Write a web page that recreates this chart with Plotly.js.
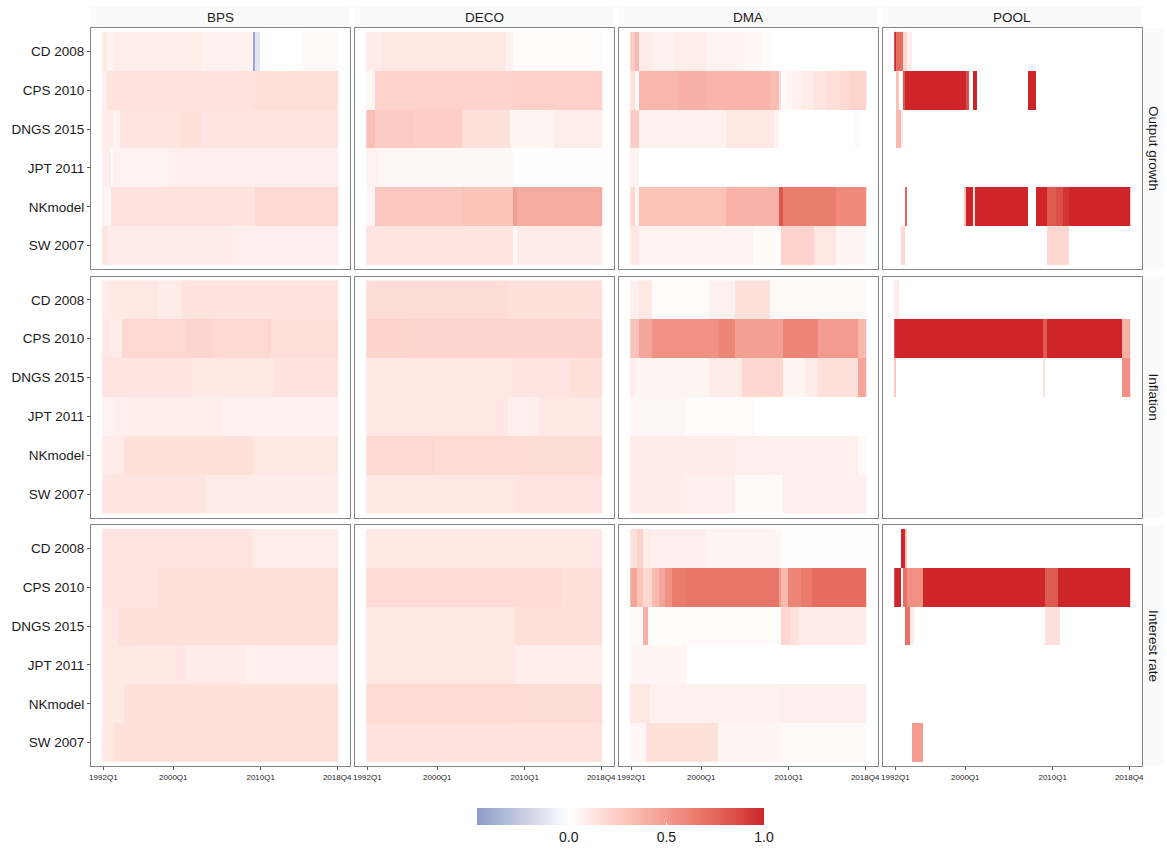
<!DOCTYPE html>
<html>
<head>
<meta charset="utf-8">
<script src="https://cdn.plot.ly/plotly-3.0.1.min.js"></script>
<style>
html, body { margin: 0; padding: 0; background: #fff; }
#chart { width: 1167px; height: 849px; }
</style>
</head>
<body>
<div id="chart"></div>
<script>
// categories
const models = ['CD 2008', 'CPS 2010', 'DNGS 2015', 'JPT 2011', 'NKmodel', 'SW 2007'];
const methods = ['BPS', 'DECO', 'DMA', 'POOL'];
const variables = ['Output growth', 'Inflation', 'Interest rate'];
const tickLabels = ['1992Q1', '2000Q1', '2010Q1', '2018Q4'];

// quarter labels 1992Q1 .. 2018Q4
let quarters = [];
for (let y = 1992; y <= 2018; y++) {
    for (let q = 1; q <= 4; q++) quarters.push(y + 'Q' + q);
}

// values, one list of runs per model row:
// [first quarter index, value] - value holds until the next run starts
const outputBPS = [
    [[0,0.12],[2,0.06],[5,0.09],[45,0.07],[69,-0.42],[70,-0.12],[72,0.0],[91,0.03]],
    [[0,0.08],[2,0.14],[69,0.15]],
    [[0,0.1],[5,0.06],[8,0.13],[36,0.15],[45,0.13]],
    [[0,0.08],[4,0.02],[5,0.06],[30,0.08]],
    [[0,0.08],[1,0.04],[4,0.14],[70,0.19]],
    [[0,0.14],[2,0.1],[60,0.08]]
];
const outputDECO = [
    [[0,0.1],[7,0.12],[64,0.06],[67,0.02]],
    [[0,0.05],[4,0.22],[67,0.23]],
    [[0,0.32],[4,0.25],[22,0.24],[44,0.15],[66,0.05],[86,0.09]],
    [[0,0.06],[5,0.04],[67,0.01]],
    [[0,0.05],[4,0.27],[44,0.3],[67,0.48],[69,0.42]],
    [[0,0.13],[67,0.03],[69,0.1]]
];
const outputDMA = [
    [[0,0.25],[2,0.35],[4,0.1],[10,0.07],[20,0.09],[35,0.06],[52,0.04],[60,0.02],[65,0]],
    [[0,0.15],[2,0.02],[4,0.36],[22,0.39],[35,0.37],[64,0.33],[68,0.15],[69,0.02],[71,0.04],[74,0.07],[78,0.1],[84,0.13],[90,0.16],[96,0.19],[101,0.22]],
    [[0,0.25],[4,0.07],[44,0.12],[66,0.06],[68,0],[103,0.02],[105,0]],
    [[0,0.06],[4,0]],
    [[0,0.2],[2,0.05],[4,0.3],[44,0.38],[68,0.82],[70,0.65],[94,0.58]],
    [[0,0.12],[4,0.06],[56,0.03],[69,0.22],[84,0.12],[94,0.05]]
];
const outputPOOL = [
    [[0,1],[1,0.72],[4,0.2],[6,0.1],[8,0]],
    [[0,0],[1,0.3],[2,0],[4,0.8],[5,1],[33,0.85],[34,0],[36,1],[38,0],[61,1],[65,0]],
    [[0,0],[1,0.35],[3,0.1],[4,0]],
    [[0,0]],
    [[0,0],[5,0.75],[6,0],[32,0.3],[33,1],[36,0.15],[37,1],[61,0],[65,1],[70,0.8],[74,0.85],[77,0.95],[80,1]],
    [[0,0],[3,0.2],[5,0],[70,0.2],[80,0]]
];

const inflationBPS = [
    [[0,0.1],[4,0.12],[25,0.1],[36,0.14]],
    [[0,0.12],[4,0.1],[9,0.19],[38,0.21],[50,0.19],[77,0.16]],
    [[0,0.13],[41,0.11],[78,0.14]],
    [[0,0.06],[5,0.08],[13,0.09],[55,0.07]],
    [[0,0.1],[10,0.15],[69,0.12]],
    [[0,0.13],[47,0.1]]
];
const inflationDECO = [
    [[0,0.17],[65,0.15]],
    [[0,0.22],[20,0.21]],
    [[0,0.12],[67,0.13],[93,0.15]],
    [[0,0.12],[65,0.08],[79,0.11]],
    [[0,0.19],[31,0.18],[70,0.17]],
    [[0,0.12],[68,0.13]]
];
const inflationDMA = [
    [[0,0.08],[4,0.12],[10,0.02],[36,0.07],[48,0.15],[64,0.03]],
    [[0,0.3],[4,0.45],[10,0.55],[40,0.6],[48,0.47],[70,0.6],[86,0.5],[104,0.35]],
    [[0,0.1],[2,0.05],[36,0.1],[51,0.2],[70,0.05],[80,0.1],[86,0.15],[104,0.45]],
    [[0,0.04],[25,0.02],[57,0]],
    [[0,0.1],[48,0.08],[104,0.03]],
    [[0,0.1],[25,0.08],[48,0.03],[70,0.08]]
];
const inflationPOOL = [
    [[0,0.1],[2,0]],
    [[0,1],[68,0.8],[70,1],[104,0.4]],
    [[0,0.3],[1,0],[68,0.15],[69,0],[104,0.55]],
    [[0,0]],
    [[0,0]],
    [[0,0]]
];

const interestBPS = [
    [[0,0.13],[69,0.09]],
    [[0,0.13],[25,0.16]],
    [[0,0.12],[7,0.15]],
    [[0,0.12],[38,0.1],[66,0.08]],
    [[0,0.11],[10,0.15]],
    [[0,0.12],[6,0.15]]
];
const interestDECO = [
    [[0,0.12]],
    [[0,0.18],[89,0.16]],
    [[0,0.12],[68,0.16]],
    [[0,0.12],[68,0.09]],
    [[0,0.18],[72,0.17]],
    [[0,0.14]]
];
const interestDMA = [
    [[0,0.15],[3,0.22],[6,0.1],[9,0.08],[35,0.05],[69,0.01]],
    [[0,0.45],[3,0.3],[6,0.2],[10,0.35],[13,0.45],[16,0.55],[19,0.65],[25,0.68],[68,0.5],[69,0.35],[72,0.6],[78,0.66],[83,0.72]],
    [[0,0.03],[6,0.4],[8,0.02],[69,0.2],[73,0.15],[77,0.1]],
    [[0,0.05],[26,0]],
    [[0,0.12],[9,0.07],[69,0.08]],
    [[0,0.04],[7,0.15],[40,0.05],[69,0.03]]
];
const interestPOOL = [
    [[0,0],[3,1],[5,0.3],[6,0]],
    [[0,1],[3,0],[4,0.7],[6,0.55],[13,1],[69,0.8],[75,1]],
    [[0,0],[5,0.7],[7,0.1],[9,0],[69,0.15],[76,0]],
    [[0,0]],
    [[0,0]],
    [[0,0],[8,0.5],[13,0]]
];

const panels = [
    [outputBPS, outputDECO, outputDMA, outputPOOL],
    [inflationBPS, inflationDECO, inflationDMA, inflationPOOL],
    [interestBPS, interestDECO, interestDMA, interestPOOL]
];

// colour scale: value -> colour (blue / white / red, lab-like steps)
const zMin = -0.47, zMax = 1.0;
const colourStops = [
    [-0.47, 'rgb(141,157,199)'],
    [-0.235, 'rgb(199,206,227)'],
    [0, 'rgb(255,255,255)'],
    [0.125, 'rgb(255,230,226)'],
    [0.25, 'rgb(253,205,197)'],
    [0.375, 'rgb(249,180,169)'],
    [0.5, 'rgb(243,155,142)'],
    [0.625, 'rgb(236,129,115)'],
    [0.75, 'rgb(227,103,90)'],
    [0.875, 'rgb(217,74,65)'],
    [1.0, 'rgb(205,37,41)']
];
const colorscale = colourStops.map(s => [(s[0] - zMin) / (zMax - zMin), s[1]]);

function expandRuns(runs) {
    let row = [];
    for (let i = 0; i < runs.length; i++) {
        let end = i + 1 < runs.length ? runs[i + 1][0] : quarters.length;
        for (let q = runs[i][0]; q < end; q++) row.push(runs[i][1]);
    }
    return row;
}

// page geometry in pixels
const W = 1167, H = 849;
const colLeft = [91, 355, 619, 883];
const colWidth = 258.5;
const rowTop = [28, 276.5, 525];
const rowHeight = 241;
const textColour = '#1a1a1a';
const stripColour = '#fafafa';
const fontFamily = '"Liberation Sans", Arial, sans-serif';

let data = [];
let layout = {
    width: W,
    height: H,
    margin: { l: 0, r: 0, t: 0, b: 0 },
    paper_bgcolor: '#fff',
    plot_bgcolor: '#fff',
    font: { family: fontFamily, color: textColour },
    showlegend: false,
    coloraxis: {
        cmin: zMin,
        cmax: zMax,
        colorscale: colorscale,
        colorbar: {
            orientation: 'h',
            x: 620.5 / W,
            xanchor: 'center',
            y: 1 - 808 / H,
            yanchor: 'top',
            len: 287,
            lenmode: 'pixels',
            thickness: 17,
            thicknessmode: 'pixels',
            outlinewidth: 0,
            xpad: 0,
            ypad: 0,
            tickvals: [0, 0.5, 1],
            ticktext: ['0.0', '0.5', '1.0'],
            ticks: 'inside',
            ticklen: 3,
            tickcolor: '#fff',
            tickfont: { size: 14, color: textColour, family: fontFamily }
        }
    },
    shapes: [],
    annotations: []
};

for (let r = 0; r < variables.length; r++) {
    for (let c = 0; c < methods.length; c++) {
        let k = r * methods.length + c + 1;
        let suffix = k > 1 ? String(k) : '';
        let z = panels[r][c].map(expandRuns);

        data.push({
            type: 'heatmap',
            x: quarters,
            y: models,
            z: z,
            coloraxis: 'coloraxis',
            xaxis: 'x' + suffix,
            yaxis: 'y' + suffix,
            hovertemplate: '%{y} %{x}: %{z}<extra>' + methods[c] + '</extra>'
        });

        let x0 = colLeft[c] / W, x1 = (colLeft[c] + colWidth) / W;
        let y1 = 1 - rowTop[r] / H, y0 = 1 - (rowTop[r] + rowHeight) / H;

        layout['xaxis' + suffix] = {
            domain: [x0, x1],
            anchor: 'y' + suffix,
            type: 'category',
            range: [-5.65, quarters.length - 1 + 5.65],
            tickvals: tickLabels,
            ticktext: tickLabels,
            showticklabels: r === variables.length - 1,
            ticks: r === variables.length - 1 ? 'outside' : '',
            ticklen: 3,
            tickcolor: '#555',
            tickfont: { size: 8, color: textColour },
            tickangle: 0,
            showgrid: false,
            zeroline: false,
            showline: true,
            mirror: true,
            linecolor: '#858585',
            linewidth: 1,
            fixedrange: true
        };
        layout['yaxis' + suffix] = {
            domain: [y0, y1],
            anchor: 'x' + suffix,
            type: 'category',
            range: [models.length - 0.4, -0.6],
            showticklabels: c === 0,
            ticks: c === 0 ? 'outside' : '',
            ticklen: 3,
            tickcolor: '#555',
            tickfont: { size: 13.5, color: textColour },
            showgrid: false,
            zeroline: false,
            showline: true,
            mirror: true,
            linecolor: '#858585',
            linewidth: 1,
            fixedrange: true
        };
    }
}

// facet strips: methods on top, variables on the right
methods.forEach(function (m, c) {
    layout.shapes.push({
        type: 'rect', xref: 'paper', yref: 'paper',
        x0: colLeft[c] / W, x1: (colLeft[c] + colWidth) / W,
        y0: 1 - 27.5 / H, y1: 1 - 6.5 / H,
        fillcolor: stripColour, line: { width: 0 }, layer: 'below'
    });
    layout.annotations.push({
        text: m, xref: 'paper', yref: 'paper',
        x: (colLeft[c] + colWidth / 2) / W, y: 1 - 17 / H,
        xanchor: 'center', yanchor: 'middle', showarrow: false,
        font: { size: 13.5, color: textColour }
    });
});
variables.forEach(function (v, r) {
    layout.shapes.push({
        type: 'rect', xref: 'paper', yref: 'paper',
        x0: 1143 / W, x1: 1164 / W,
        y0: 1 - (rowTop[r] + rowHeight) / H, y1: 1 - rowTop[r] / H,
        fillcolor: stripColour, line: { width: 0 }, layer: 'below'
    });
    layout.annotations.push({
        text: v, xref: 'paper', yref: 'paper',
        x: 1153.5 / W, y: 1 - (rowTop[r] + rowHeight / 2) / H,
        xanchor: 'center', yanchor: 'middle', showarrow: false,
        textangle: 90,
        font: { size: 13.5, color: textColour }
    });
});

Plotly.newPlot('chart', data, layout, { displayModeBar: false, staticPlot: true });
</script>
</body>
</html>
